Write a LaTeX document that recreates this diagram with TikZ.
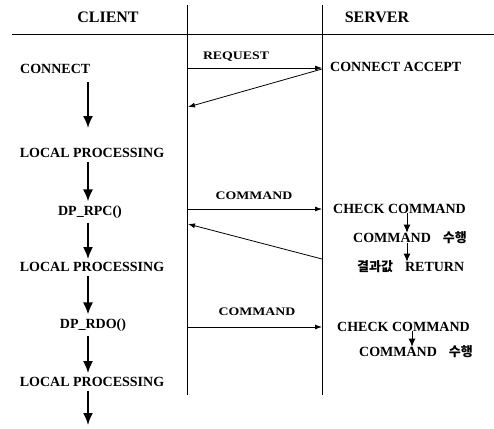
\documentclass[tikz,border=0pt]{standalone}
\usepackage{fontspec}
\setmainfont{Liberation Serif}
\newfontfamily\krfont{Noto Sans CJK KR}
\usetikzlibrary{arrows.meta}
\begin{document}
\begin{tikzpicture}[x=1pt,y=-1pt,
  txt/.style={font=\fontsize{14}{16}\selectfont\bfseries, inner sep=2pt},
  head/.style={font=\fontsize{16}{18}\selectfont\bfseries, inner sep=2pt},
  lbl/.style={font=\fontsize{11.5}{13}\selectfont\bfseries, inner sep=1pt},
  lane/.style={line width=0.9pt},
  msg/.style={line width=0.8pt, -{Latex[length=7pt,width=5pt]}},
  carrow/.style={line width=1.8pt, -{Latex[length=12pt,width=10pt]}},
  sarrow/.style={line width=0.9pt, -{Latex[length=8pt,width=7pt]}}]
\useasboundingbox (0,0) rectangle (494,428);
% header
\node[head] (client) at (108,17) {CLIENT};
\node[head] (server) at (377,17) {SERVER};
\coordinate (hl) at (12,34);
\coordinate (hr) at (494,34);
\draw[lane] (hl) -- (hr);
% lanes
\coordinate (lt) at (187,5);
\coordinate (lb) at (187,395);
\coordinate (rt) at (322,5);
\coordinate (rb) at (322,395);
\draw[lane] (lt) -- (lb);
\draw[lane] (rt) -- (rb);
% client column
\coordinate (ax) at (88,0);
\node[txt, anchor=west] (connect) at (18,69) {CONNECT};
\node[txt] (lp1) at (92,153) {LOCAL PROCESSING};
\node[txt] (rpc) at (90,212) {DP\_RPC()};
\node[txt] (lp2) at (92,267) {LOCAL PROCESSING};
\node[txt] (rdo) at (93,325) {DP\_RDO()};
\node[txt] (lp3) at (92,382) {LOCAL PROCESSING};
\coordinate (a1s) at (88,82);
\coordinate (a1e) at (88,128);
\coordinate (a6e) at (88,425);
\draw[carrow] (a1s) -- (a1e);
\draw[carrow] ([yshift=-2pt]lp1.south -| ax) -- ([yshift=2pt]rpc.north -| ax);
\draw[carrow] ([yshift=-2pt]rpc.south -| ax) -- ([yshift=1pt]lp2.north -| ax);
\draw[carrow] ([yshift=-2pt]lp2.south -| ax) -- ([yshift=2pt]rdo.north -| ax);
\draw[carrow] ([yshift=-2pt]rdo.south -| ax) -- ([yshift=2pt]lp3.north -| ax);
\draw[carrow] ([yshift=-2pt]lp3.south -| ax) -- (a6e);
% server column
\node[txt, anchor=west] (accept) at (328,67) {CONNECT ACCEPT};
\node[txt, anchor=west] (check1) at (331,209) {CHECK COMMAND};
\node[txt, anchor=west] (exec1) at (351,238) {COMMAND\hspace{12pt}{\krfont\fontsize{13}{15}\selectfont 수행}};
\node[txt, anchor=west] (ret) at (355,267) {{\krfont\fontsize{13}{15}\selectfont 결과값}\hspace{12pt}RETURN};
\node[txt, anchor=west] (check2) at (335,327) {CHECK COMMAND};
\node[txt, anchor=west] (exec2) at (357,352) {COMMAND\hspace{12pt}{\krfont\fontsize{13}{15}\selectfont 수행}};
\coordinate (s1x) at (407,0);
\coordinate (s2x) at (412,0);
\draw[sarrow] ([yshift=3pt]check1.south -| s1x) -- ([yshift=-3pt]exec1.north -| s1x);
\draw[sarrow] ([yshift=3pt]exec1.south -| s1x) -- ([yshift=-3pt]ret.north -| s1x);
\draw[sarrow] ([yshift=3pt]check2.south -| s2x) -- ([yshift=-3pt]exec2.north -| s2x);
% messages
\coordinate (m1s) at (187,68);
\coordinate (m1e) at (322,68);
\draw[msg] (m1s) -- (m1e);
\node[lbl] (req) at (236,57) {\scalebox{1.2}[1]{REQUEST}};
\coordinate (r1s) at (322,69);
\coordinate (r1e) at (188,107);
\draw[msg] (r1s) -- (r1e);
\coordinate (m2s) at (187,209);
\coordinate (m2e) at (322,209);
\draw[msg] (m2s) -- (m2e);
\node[lbl] (cmd1) at (254,196) {\scalebox{1.2}[1]{COMMAND}};
\coordinate (r2s) at (322,259);
\coordinate (r2e) at (188,224);
\draw[msg] (r2s) -- (r2e);
\coordinate (m3s) at (187,327);
\coordinate (m3e) at (322,327);
\draw[msg] (m3s) -- (m3e);
\node[lbl] (cmd2) at (257,312) {\scalebox{1.2}[1]{COMMAND}};
\end{tikzpicture}
\end{document}
